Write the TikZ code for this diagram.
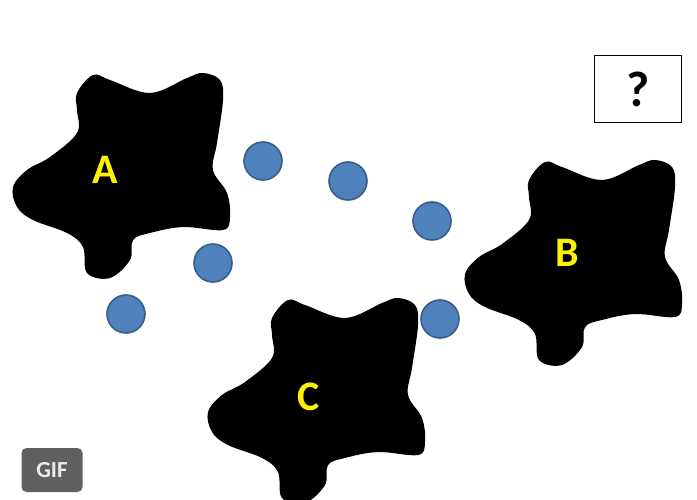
\documentclass[tikz,border=0pt]{standalone}
\usepackage{fontspec}
\setmainfont{Carlito}
\definecolor{cellblue}{HTML}{4F81BD}
\definecolor{cellrim}{HTML}{385D8A}
\definecolor{badgegray}{HTML}{606060}

\begin{document}
\begin{tikzpicture}[x=1pt, y=-1pt,
    blob/.pic={\fill[black] plot[smooth cycle, tension=0.6] coordinates {
        (-28,-77) (-12,-95) (5,-90) (45,-77) (82,-92) (98,-97) (115,-90)
        (118,-70) (112,-27) (108,0) (122,23) (125,47) (118,60) (78,57)
        (45,63) (28,70) (25,90) (5,108) (-18,103) (-22,77) (-38,63)
        (-72,50) (-88,37) (-92,17) (-78,0) (-55,-13) (-28,-37) (-28,-60)};},
    mol/.style={circle, fill=cellblue, draw=cellrim, line width=1.6pt,
                minimum size=38pt, inner sep=0pt},
    tag/.style={text=yellow, font=\bfseries\fontsize{42}{42}\selectfont},
  ]
  \fill[white] (0,0) rectangle (697,500);
  \useasboundingbox (0,0) rectangle (697,500);

  % cells
  \pic at (105,170) {blob};
  \pic at (557,257) {blob};
  \pic at (300,395) {blob};
  \node[tag] (a) at (105,170) {A};
  \node[tag] (b) at (567,253) {B};
  \node[tag] (c) at (309,397) {C};

  % molecules
  \node[mol] (m1) at (263,161) {};
  \node[mol] (m2) at (348,181) {};
  \node[mol] (m3) at (432,221) {};
  \node[mol] (m4) at (213,263) {};
  \node[mol] (m5) at (126,314) {};
  \node[mol] (m6) at (440,319) {};

  \node[draw, line width=1.5pt, minimum width=87pt, minimum height=67pt,
        font=\bfseries\fontsize{50}{50}\selectfont] (ask) at (638,89) {?};
  \node[fill=badgegray, rounded corners=5pt, minimum width=61pt,
        minimum height=44pt, text=white!92!black,
        font=\bfseries\fontsize{23}{23}\selectfont] (gif) at (52,470) {GIF};
\end{tikzpicture}
\end{document}
